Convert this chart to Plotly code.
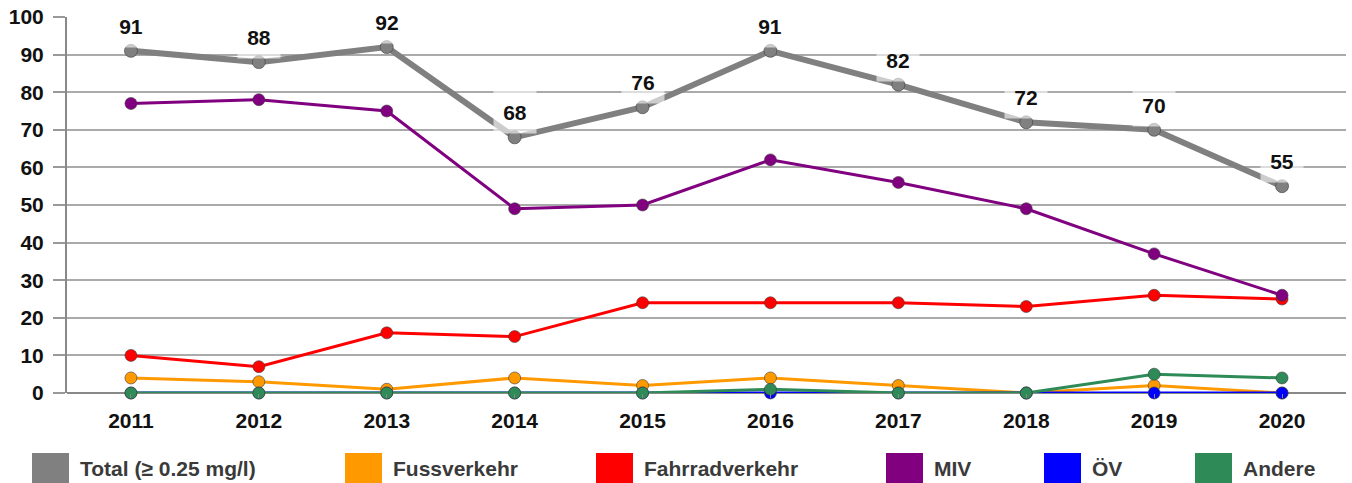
import plotly.graph_objects as go

years = ["2011", "2012", "2013", "2014", "2015", "2016", "2017", "2018", "2019", "2020"]
total = [91, 88, 92, 68, 76, 91, 82, 72, 70, 55]
fuss = [4, 3, 1, 4, 2, 4, 2, 0, 2, 0]
fahrrad = [10, 7, 16, 15, 24, 24, 24, 23, 26, 25]
miv = [77, 78, 75, 49, 50, 62, 56, 49, 37, 26]
oev = [0, 0, 0, 0, 0, 0, 0, 0, 0, 0]
andere = [0, 0, 0, 0, 0, 1, 0, 0, 5, 4]

names = ["Total (≥ 0.25 mg/l)", "Fussverkehr", "Fahrradverkehr", "MIV", "ÖV", "Andere"]
colors = ["#808080", "#FF9900", "#FF0000", "#800080", "#0000FF", "#2E8B57"]
series = [total, fuss, fahrrad, miv, oev, andere]

W, H = 1352, 483
ML, MR, MT, MB = 67, 6, 17, 90
PW, PH = W - ML - MR, H - MT - MB


def px2paper_x(px):
    return (px - ML) / PW


def py2paper_y(py):
    return (H - MB - py) / PH


FONT = "Liberation Sans, Arial, sans-serif"

fig = go.Figure()
for i, (nm, col, vals) in enumerate(zip(names, colors, series)):
    is_total = i == 0
    fig.add_trace(go.Scatter(
        x=years, y=vals, name=nm, mode="lines+markers",
        line=dict(color=col, width=6 if is_total else 3),
        marker=dict(color=col, size=13 if is_total else 12,
                    line=dict(color="rgba(60,60,60,0.6)", width=1)),
        cliponaxis=False, showlegend=False,
    ))

# value labels for Total (category index positions)
for idx, v in enumerate(total):
    fig.add_annotation(
        x=idx, y=v, xref="x", yref="y", text=f"<b>{v}</b>", showarrow=False, yshift=25,
        font=dict(family=FONT, size=21, color="#111"),
        bgcolor="rgba(255,255,255,0.6)", width=40, height=40,
    )

# custom legend (big squares)
leg_sq_x = [32, 345, 596, 886, 1044, 1195]
for nm, col, px in zip(names, colors, leg_sq_x):
    fig.add_shape(type="rect", xref="paper", yref="paper",
                  x0=px2paper_x(px), x1=px2paper_x(px + 37),
                  y0=py2paper_y(483), y1=py2paper_y(453),
                  fillcolor=col, line=dict(width=0), layer="above")
    fig.add_annotation(xref="paper", yref="paper", x=px2paper_x(px + 46),
                       y=py2paper_y(468), xanchor="left", yanchor="middle",
                       text=f"<b>{nm}</b>", showarrow=False,
                       font=dict(family=FONT, size=21, color="#3a3a3a"))

fig.update_layout(
    width=W, height=H,
    margin=dict(l=ML, r=MR, t=MT, b=MB, autoexpand=False),
    paper_bgcolor="white", plot_bgcolor="white",
    showlegend=False,
    font=dict(family=FONT, size=21, color="#111"),
)
fig.update_xaxes(
    type="category", range=[-0.5, 9.5], automargin=False,
    showgrid=False, showline=False,
    ticks="outside", ticklen=4, tickcolor="#888", tickwidth=1,
    tickfont=dict(family=FONT, size=21, color="#111", weight="bold"),
    ticklabelstandoff=5,
)
fig.update_yaxes(
    range=[0, 100], dtick=10, automargin=False,
    showgrid=True, gridcolor="#aaaaaa", gridwidth=2,
    zeroline=True, zerolinecolor="#888888", zerolinewidth=2,
    showline=True, linecolor="#888888", linewidth=2,
    ticks="outside", ticklen=12, tickcolor="#999999", tickwidth=2,
    tickfont=dict(family=FONT, size=21, color="#111", weight="bold"),
    ticklabelstandoff=5, ticklabeloverflow="allow",
)

fig.write_html(
    "out.html",
    config={"displayModeBar": False},
    post_script="document.body.style.margin='0';document.body.style.overflow='hidden';",
)
